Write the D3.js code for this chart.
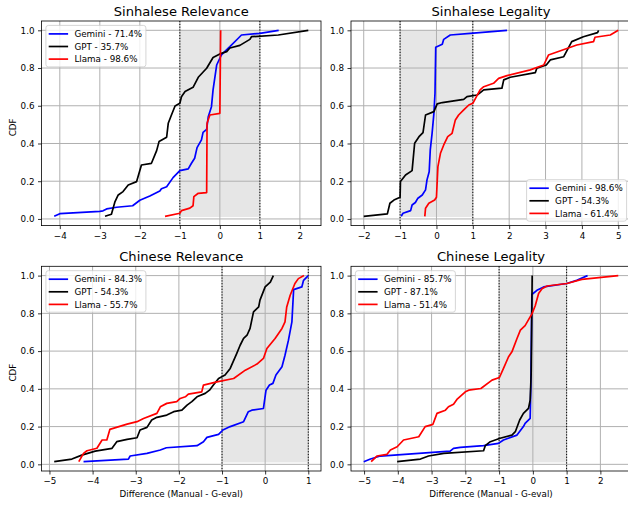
<!DOCTYPE html>
<html>
<head>
<meta charset="utf-8">
<script src="https://cdn.jsdelivr.net/npm/d3@7"></script>
<style>
body { margin: 0; background: #fff; }
svg { display: block; font-family: "DejaVu Sans", sans-serif; }
</style>
</head>
<body>
<script>
// values: [difference, cdf]
var models = ["Gemini", "GPT", "Llama"];
var colors = ["#0000ff", "#000000", "#ff0000"];
var titles = ["Sinhalese Relevance", "Sinhalese Legality", "Chinese Relevance", "Chinese Legality"];
var percents = [
  ["71.4%", "35.7%", "98.6%"],
  ["98.6%", "54.3%", "61.4%"],
  ["84.3%", "54.3%", "55.7%"],
  ["85.7%", "87.1%", "51.4%"]
];
var xTicks = [
  [-4, -3, -2, -1, 0, 1, 2],
  [-2, -1, 0, 1, 2, 3, 4, 5],
  [-5, -4, -3, -2, -1, 0, 1],
  [-5, -4, -3, -2, -1, 0, 1, 2]
];
var yTicks = [0, 0.2, 0.4, 0.6, 0.8, 1.0];
var band = [-1, 1];

var sinRelGemini = [[-4.14,0.014],[-4.0,0.028],[-3.0,0.04],[-2.92,0.043],[-2.83,0.053],[-2.58,0.062],[-2.18,0.07],[-2.0,0.099],[-1.75,0.122],[-1.5,0.148],[-1.46,0.16],[-1.33,0.171],[-1.17,0.219],[-1.0,0.256],[-0.79,0.265],[-0.71,0.295],[-0.63,0.322],[-0.57,0.378],[-0.46,0.419],[-0.42,0.459],[-0.33,0.475],[-0.29,0.542],[-0.21,0.595],[-0.17,0.684],[-0.08,0.816],[0.04,0.87],[0.12,0.887],[0.25,0.913],[0.46,0.958],[0.54,0.975],[1.0,0.984],[1.47,1.0]];
var sinRelGpt = [[-2.87,0.014],[-2.71,0.025],[-2.62,0.092],[-2.54,0.127],[-2.42,0.145],[-2.29,0.18],[-2.08,0.198],[-1.96,0.286],[-1.71,0.295],[-1.58,0.362],[-1.52,0.41],[-1.33,0.433],[-1.29,0.507],[-1.21,0.551],[-1.12,0.599],[-1.0,0.613],[-0.96,0.648],[-0.87,0.675],[-0.67,0.698],[-0.54,0.751],[-0.33,0.799],[-0.17,0.856],[0,0.875],[0.17,0.887],[0.25,0.906],[0.5,0.92],[0.75,0.952],[0.79,0.966],[1.46,0.975],[2.21,1.0]];
var sinRelLlama = [[-1.37,0.014],[-1.0,0.03],[-0.96,0.044],[-0.75,0.057],[-0.67,0.07],[-0.65,0.118],[-0.54,0.136],[-0.33,0.14],[-0.32,0.507],[-0.25,0.551],[0,0.56],[0.02,1.0]];

var sinLegGemini = [[-0.97,0.014],[-0.92,0.03],[-0.71,0.044],[-0.67,0.074],[-0.58,0.087],[-0.51,0.11],[-0.39,0.127],[-0.3,0.154],[-0.26,0.207],[-0.2,0.25],[-0.17,0.366],[-0.12,0.454],[-0.07,0.56],[-0.04,0.666],[-0.02,0.91],[0.16,0.926],[0.2,0.952],[0.38,0.975],[0.93,0.984],[1.94,1.0]];
var sinLegGpt = [[-2.0,0.014],[-1.35,0.027],[-1.28,0.083],[-1.17,0.1],[-1.0,0.115],[-0.99,0.198],[-0.85,0.233],[-0.67,0.256],[-0.6,0.401],[-0.48,0.436],[-0.37,0.458],[-0.3,0.551],[-0.07,0.569],[0.02,0.61],[0.16,0.617],[0.75,0.634],[0.84,0.648],[1.12,0.657],[1.3,0.684],[1.8,0.693],[1.85,0.737],[2.03,0.751],[2.72,0.776],[2.76,0.799],[3.02,0.816],[3.13,0.843],[3.5,0.86],[3.72,0.94],[4.04,0.966],[4.43,0.988],[4.46,1.0]];
var sinLegLlama = [[-0.32,0.014],[-0.3,0.057],[-0.21,0.083],[-0.05,0.1],[0,0.115],[0.04,0.277],[0.11,0.348],[0.2,0.392],[0.31,0.436],[0.43,0.454],[0.52,0.525],[0.61,0.551],[0.75,0.578],[0.89,0.604],[1.0,0.613],[1.2,0.684],[1.3,0.701],[1.57,0.719],[1.71,0.745],[1.94,0.76],[2.58,0.79],[2.95,0.816],[3.08,0.869],[3.86,0.922],[4.32,0.94],[4.36,0.963],[4.78,0.975],[5.0,1.0]];

var chnRelGemini = [[-4.21,0.014],[-3.17,0.028],[-3.13,0.044],[-2.74,0.058],[-2.43,0.076],[-2.29,0.088],[-1.58,0.099],[-1.43,0.12],[-1.35,0.143],[-1.08,0.159],[-0.98,0.182],[-0.81,0.2],[-0.5,0.226],[-0.39,0.279],[-0.31,0.287],[-0.04,0.296],[0.02,0.393],[0.1,0.42],[0.18,0.429],[0.25,0.473],[0.39,0.517],[0.46,0.578],[0.54,0.658],[0.62,0.755],[0.66,0.926],[0.85,0.94],[0.89,0.975],[1.0,1.0]];
var chnRelGpt = [[-4.89,0.014],[-4.48,0.028],[-4.25,0.049],[-3.94,0.07],[-3.55,0.085],[-3.44,0.12],[-3.2,0.132],[-2.97,0.141],[-2.9,0.182],[-2.74,0.196],[-2.63,0.235],[-2.51,0.249],[-2.28,0.261],[-2.12,0.279],[-1.93,0.287],[-1.81,0.314],[-1.7,0.332],[-1.58,0.358],[-1.39,0.376],[-1.29,0.393],[-1.2,0.42],[-1.08,0.455],[-0.93,0.473],[-0.81,0.508],[-0.66,0.587],[-0.58,0.631],[-0.5,0.667],[-0.42,0.684],[-0.35,0.72],[-0.27,0.808],[-0.15,0.834],[-0.12,0.87],[0,0.94],[0.12,0.966],[0.19,1.0]];
var chnRelLlama = [[-4.32,0.014],[-4.21,0.058],[-4.13,0.072],[-3.9,0.085],[-3.78,0.129],[-3.67,0.129],[-3.6,0.185],[-3.2,0.213],[-2.97,0.226],[-2.82,0.243],[-2.51,0.27],[-2.43,0.305],[-2.28,0.323],[-2.05,0.332],[-1.97,0.349],[-1.85,0.358],[-1.78,0.372],[-1.47,0.384],[-1.43,0.42],[-1.12,0.437],[-0.73,0.455],[-0.46,0.499],[-0.19,0.531],[-0.04,0.561],[0.04,0.614],[0.23,0.667],[0.39,0.72],[0.46,0.755],[0.5,0.834],[0.58,0.896],[0.69,0.958],[0.77,0.984],[0.9,1.0]];

var chnLegGemini = [[-5.01,0.014],[-4.81,0.028],[-4.52,0.044],[-2.45,0.07],[-2.35,0.085],[-2.15,0.09],[-1.46,0.099],[-1.02,0.111],[-0.87,0.129],[-0.47,0.155],[-0.28,0.2],[-0.23,0.217],[-0.08,0.243],[-0.06,0.411],[-0.03,0.9],[0.12,0.922],[0.32,0.94],[1.0,0.958],[1.3,0.975],[1.62,1.0]];
var chnLegGpt = [[-4.02,0.014],[-3.33,0.028],[-3.09,0.044],[-2.64,0.058],[-1.46,0.072],[-1.41,0.099],[-1.26,0.12],[-0.97,0.138],[-0.62,0.155],[-0.52,0.173],[-0.39,0.235],[-0.28,0.27],[-0.13,0.296],[-0.08,0.34],[-0.05,0.481],[-0.02,1.0]];
var chnLegLlama = [[-4.79,0.014],[-4.62,0.044],[-4.32,0.053],[-4.22,0.076],[-4.02,0.093],[-3.83,0.129],[-3.38,0.146],[-3.19,0.2],[-2.96,0.212],[-2.84,0.27],[-2.59,0.287],[-2.5,0.305],[-2.35,0.319],[-2.25,0.344],[-2.0,0.384],[-1.9,0.393],[-1.54,0.402],[-1.21,0.446],[-0.99,0.46],[-0.87,0.508],[-0.72,0.57],[-0.62,0.596],[-0.47,0.667],[-0.37,0.711],[-0.23,0.735],[-0.02,0.8],[0.07,0.84],[0.17,0.905],[0.27,0.93],[0.42,0.945],[1.01,0.958],[1.45,0.98],[2.53,1.0]];

var panelSeries = [
  [sinRelGemini, sinRelGpt, sinRelLlama],
  [sinLegGemini, sinLegGpt, sinLegLlama],
  [chnRelGemini, chnRelGpt, chnRelLlama],
  [chnLegGemini, chnLegGpt, chnLegLlama]
];
var legendPos = ["upper left", "lower right", "upper left", "upper left"];

var W = 628, H = 506;
var colX = [[41.5, 321], [351, 631]];
var rowY = [[21, 225.6], [266.3, 471]];
var fs = 8.75;
var minus = function(s) { return s.replace("-", "\u2212"); };

var svg = d3.select("body").append("svg")
  .attr("width", W)
  .attr("height", H);

panelSeries.forEach(function(series, p) {
  var col = p % 2, row = Math.floor(p / 2);
  var x0 = colX[col][0], x1 = colX[col][1];
  var y0 = rowY[row][0], y1 = rowY[row][1];

  var all = d3.merge(series);
  var xe = d3.extent(all, function(d) { return d[0]; });
  var ye = d3.extent(all, function(d) { return d[1]; });
  var xm = (xe[1] - xe[0]) * 0.05, ym = (ye[1] - ye[0]) * 0.05;

  var x = d3.scaleLinear().domain([xe[0] - xm, xe[1] + xm]).range([x0, x1]);
  var y = d3.scaleLinear().domain([ye[0] - ym, ye[1] + ym]).range([y1, y0]);

  var g = svg.append("g");
  var clipId = "clip" + p;
  g.append("clipPath").attr("id", clipId)
    .append("rect").attr("x", x0).attr("y", y0).attr("width", x1 - x0).attr("height", y1 - y0);

  // shaded band
  g.append("rect")
    .attr("x", x(band[0])).attr("width", x(band[1]) - x(band[0]))
    .attr("y", y(1.0)).attr("height", y(0.01) - y(1.0))
    .attr("fill", "#e6e6e6");

  // grid
  g.selectAll(".gx").data(xTicks[p]).enter().append("line")
    .attr("x1", function(d) { return x(d); }).attr("x2", function(d) { return x(d); })
    .attr("y1", y0).attr("y2", y1)
    .attr("stroke", "#b0b0b0").attr("stroke-width", 1);
  g.selectAll(".gy").data(yTicks).enter().append("line")
    .attr("x1", x0).attr("x2", x1)
    .attr("y1", function(d) { return y(d); }).attr("y2", function(d) { return y(d); })
    .attr("stroke", "#b0b0b0").attr("stroke-width", 1);

  // dotted band edges
  g.selectAll(".vl").data(band).enter().append("line")
    .attr("x1", function(d) { return x(d); }).attr("x2", function(d) { return x(d); })
    .attr("y1", y0).attr("y2", y1)
    .attr("stroke", "#000").attr("stroke-width", 1)
    .attr("stroke-dasharray", "1.2,1.6");

  var line = d3.line()
    .x(function(d) { return x(d[0]); })
    .y(function(d) { return y(d[1]); });

  g.append("g").attr("clip-path", "url(#" + clipId + ")")
    .selectAll("path").data(series).enter().append("path")
    .attr("d", line)
    .attr("fill", "none")
    .attr("stroke", function(d, i) { return colors[i]; })
    .attr("stroke-width", 1.7)
    .attr("stroke-linejoin", "round");

  // axes
  var xAxis = g.append("g").attr("transform", "translate(0," + y1 + ")")
    .call(d3.axisBottom(x).tickValues(xTicks[p]).tickSize(3.5).tickPadding(3.5)
      .tickFormat(function(d) { return minus(String(d)); }));
  var yAxis = g.append("g").attr("transform", "translate(" + x0 + ",0)")
    .call(d3.axisLeft(y).tickValues(yTicks).tickSize(3.5).tickPadding(3.5)
      .tickFormat(d3.format(".1f")));
  [xAxis, yAxis].forEach(function(a) {
    a.select(".domain").remove();
    a.selectAll("line").attr("stroke", "#000").attr("stroke-width", 0.8);
    a.selectAll("text").attr("font-size", fs).attr("fill", "#000")
      .attr("font-family", "DejaVu Sans");
  });

  // spines
  g.append("rect")
    .attr("x", x0).attr("y", y0).attr("width", x1 - x0).attr("height", y1 - y0)
    .attr("fill", "none").attr("stroke", "#000").attr("stroke-width", 0.8);

  // title
  g.append("text")
    .attr("x", (x0 + x1) / 2).attr("y", y0 - 5.3)
    .attr("text-anchor", "middle")
    .attr("font-size", 13.1)
    .text(titles[p]);

  if (col == 0) {
    g.append("text")
      .attr("transform", "translate(16," + ((y0 + y1) / 2 + 4) + ") rotate(-90)")
      .attr("text-anchor", "middle")
      .attr("font-size", fs)
      .text("CDF");
  }
  if (row == 1) {
    g.append("text")
      .attr("x", (x0 + x1) / 2).attr("y", y1 + 25.5)
      .attr("text-anchor", "middle")
      .attr("font-size", fs)
      .text("Difference (Manual - G-eval)");
  }

  // legend
  var lw = 100, lh = 41.5, pad = 4.4;
  var lx = legendPos[p] == "lower right" ? x1 - pad - lw : x0 + pad;
  var ly = legendPos[p] == "lower right" ? y1 - pad - lh : y0 + pad;
  var leg = g.append("g").attr("transform", "translate(" + lx + "," + ly + ")");
  leg.append("rect")
    .attr("width", lw).attr("height", lh).attr("rx", 2.5)
    .attr("fill", "#fff").attr("fill-opacity", 0.8)
    .attr("stroke", "#cccccc").attr("stroke-width", 0.8);
  var items = leg.selectAll(".item").data(models).enter().append("g")
    .attr("transform", function(d, i) { return "translate(0," + (8.5 + i * 12.6) + ")"; });
  items.append("line")
    .attr("x1", 2.8).attr("x2", 22.2)
    .attr("stroke", function(d, i) { return colors[i]; })
    .attr("stroke-width", 1.7);
  items.append("text")
    .attr("x", 28.5).attr("y", 3.2)
    .attr("font-size", fs)
    .text(function(d, i) { return d + " - " + percents[p][i]; });
});
</script>
</body>
</html>
